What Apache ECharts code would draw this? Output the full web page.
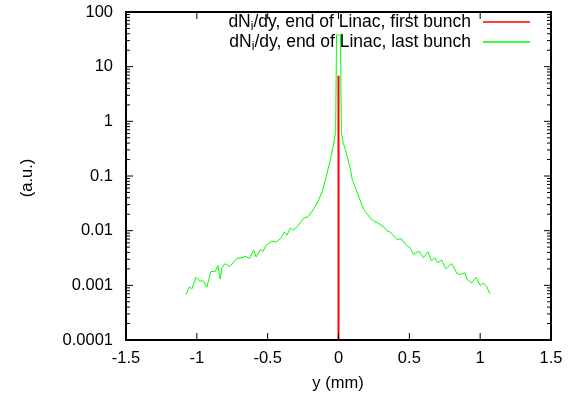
<!DOCTYPE html>
<html><head><meta charset="utf-8">
<script src="https://cdn.jsdelivr.net/npm/echarts@6/dist/echarts.min.js"></script>
<style>html,body{margin:0;padding:0;background:#fff}#c{width:574px;height:401px}</style>
</head><body><div id="c"></div>
<script>
window.onerror = function (m, s, l, c, err) { console.error('onerror: ' + m + ' ' + (err && err.stack)); };
// ---- data ----
var xTicks = [-1.5, -1, -0.5, 0, 0.5, 1, 1.5];
var yTicks = [0.0001, 0.001, 0.01, 0.1, 1, 10, 100];
var xTitle = 'y (mm)';
var yTitle = '(a.u.)';
var seriesNames = ['dN_i/dy, end of Linac, first bunch', 'dN_i/dy, end of Linac, last bunch'];
var firstX = [0, 0];
var firstY = [0.0001, 6.8];
var lastX = [-1.076,-1.052,-1.035,-1.005,-0.98,-0.953,-0.93,-0.918,-0.90,-0.87,-0.851,-0.835,-0.823,-0.80,-0.769,-0.717,-0.682,-0.658,-0.628,-0.60,-0.582,-0.552,-0.533,-0.51,-0.469,-0.439,-0.41,-0.382,-0.363,-0.34,-0.321,-0.292,-0.245,-0.214,-0.175,-0.139,-0.115,-0.092,-0.08,-0.057,-0.033,-0.02,-0.014,0.014,0.02,0.033,0.05,0.085,0.097,0.132,0.179,0.238,0.274,0.32,0.345,0.363,0.396,0.415,0.444,0.481,0.505,0.528,0.568,0.599,0.632,0.656,0.68,0.698,0.729,0.757,0.797,0.84,0.868,0.892,0.906,0.939,0.97,1.0,1.024,1.045,1.069];
var lastY = [0.00068,0.00094,0.00086,0.0014,0.0012,0.0012,0.00093,0.0010,0.0018,0.0018,0.0023,0.0013,0.0021,0.0025,0.0022,0.0031,0.0032,0.0034,0.0031,0.0044,0.0033,0.0045,0.0042,0.0054,0.0064,0.0062,0.0071,0.0095,0.0083,0.0112,0.0102,0.0117,0.017,0.018,0.025,0.037,0.052,0.086,0.114,0.2,0.4,0.65,38,38,0.65,0.4,0.3,0.13,0.086,0.05,0.024,0.0155,0.014,0.0117,0.0098,0.0095,0.0077,0.0069,0.0071,0.0053,0.0049,0.0037,0.0042,0.0032,0.0041,0.0028,0.0032,0.0026,0.0029,0.002,0.0025,0.0016,0.0016,0.0017,0.0013,0.0011,0.0014,0.001,0.0011,0.00096,0.0007];
var minorTicks = [];
for (var e = -4; e < 2; e++) for (var k = 2; k <= 9; k++) minorTicks.push(+(k * Math.pow(10, e)).toPrecision(2));

function zip(a, b) { return a.map(function (v, i) { return [v, b[i]]; }); }

// frame + tick items: [x, y, kind]  kind 0 = x tick, 1 = y major tick, 2 = y minor tick, 3 = frame
var frameItems = [[0, 1, 3]]
  .concat(xTicks.map(function (v) { return [v, 1, 0]; }))
  .concat(yTicks.map(function (v) { return [0, v, 1]; }))
  .concat(minorTicks.map(function (v) { return [0, v, 2]; }));

var FONT = 'Liberation Sans';
var LBL = 16.5;
var chart = echarts.init(document.getElementById('c'), null, {renderer: 'canvas'});
function legendFmt(name) {
  var p = name.split('_i');
  return p[0] + '{sub|i}' + p[1];
}
function legendText() {
  return {
    fontFamily: FONT, fontSize: 17.5, color: '#000', padding: [0, 7, 0, 0],
    rich: {sub: {fontFamily: FONT, fontSize: 12, color: '#000', padding: [9, 0, 0, 0]}}
  };
}
var opt = {
  animation: false,
  grid: {left: 126, right: 23, top: 12, bottom: 61},
  graphic: [
    {type: 'text', x: 27, y: 178, rotation: Math.PI / 2, silent: true,
     style: {text: yTitle, fontFamily: FONT, fontSize: LBL, fill: '#000', align: 'center', verticalAlign: 'middle'}},
    {type: 'text', x: 338, y: 383, silent: true,
     style: {text: xTitle, fontFamily: FONT, fontSize: LBL, fill: '#000', align: 'center', verticalAlign: 'middle'}}
  ],
  legend: [
    {data: [{name: seriesNames[0], icon: 'rect'}], right: 39, top: 8, align: 'right', itemWidth: 47, itemHeight: 1.5,
     formatter: legendFmt, textStyle: legendText(), itemGap: 0},
    {data: [{name: seriesNames[1], icon: 'rect'}], right: 39, top: 28, align: 'right', itemWidth: 47, itemHeight: 1.5,
     formatter: legendFmt, textStyle: legendText(), itemGap: 0}
  ],
  xAxis: {type: 'value', min: -1.5, max: 1.5, interval: 0.5,
    axisLine: {show: false}, axisTick: {show: false}, splitLine: {show: false},
    axisLabel: {fontFamily: FONT, fontSize: LBL, color: '#000', margin: 10,
      formatter: function (v) { return String(v); }}},
  yAxis: {type: 'log', logBase: 10, min: 0.0001, max: 100, splitNumber: 6,
    axisLine: {show: false}, axisTick: {show: false}, splitLine: {show: false},
    axisLabel: {fontFamily: FONT, fontSize: LBL, color: '#000', margin: 13,
      formatter: function (v) { return String(+(+v).toPrecision(1)); }}},
  series: [
    {name: seriesNames[0], type: 'line', data: zip(firstX, firstY), symbol: 'none',
     lineStyle: {color: '#ff0000', width: 2}, itemStyle: {color: '#ff0000'}, z: 3},
    {name: seriesNames[1], type: 'line', data: zip(lastX, lastY), symbol: 'none',
     lineStyle: {color: '#00ff00', width: 1}, itemStyle: {color: '#00ff00'}, z: 2},
    {name: 'frame', type: 'custom', data: frameItems, silent: true, z: 5, clip: false,
     dimensions: ['x', 'y', 'kind'], encode: {x: 0, y: 1},
     renderItem: function (params, api) {
       var cs = params.coordSys;
       var kind = api.value(2);
       var st = {stroke: '#000', lineWidth: 1, fill: null};
       var L = cs.x, R = cs.x + cs.width, T = cs.y, B = cs.y + cs.height;
       if (kind === 3) {
         return {type: 'rect', shape: {x: L, y: T, width: cs.width, height: cs.height},
                 style: {stroke: '#000', lineWidth: 2, fill: null}};
       }
       if (kind === 0) {
         var px = api.coord([api.value(0), 1])[0];
         return {type: 'group', children: [
           {type: 'line', shape: {x1: px, y1: B, x2: px, y2: B - 7}, style: st},
           {type: 'line', shape: {x1: px, y1: T, x2: px, y2: T + 7}, style: st}]};
       }
       var py = api.coord([0, api.value(1)])[1];
       var len = kind === 1 ? 7 : 4;
       return {type: 'group', children: [
         {type: 'line', shape: {x1: L, y1: py, x2: L + len, y2: py}, style: st},
         {type: 'line', shape: {x1: R - len, y1: py, x2: R, y2: py}, style: st}]};
     }}
  ]
};
try { chart.setOption(opt); } catch (err) { console.error('setOption: ' + err.message + ' ' + err.stack); }
</script></body></html>
